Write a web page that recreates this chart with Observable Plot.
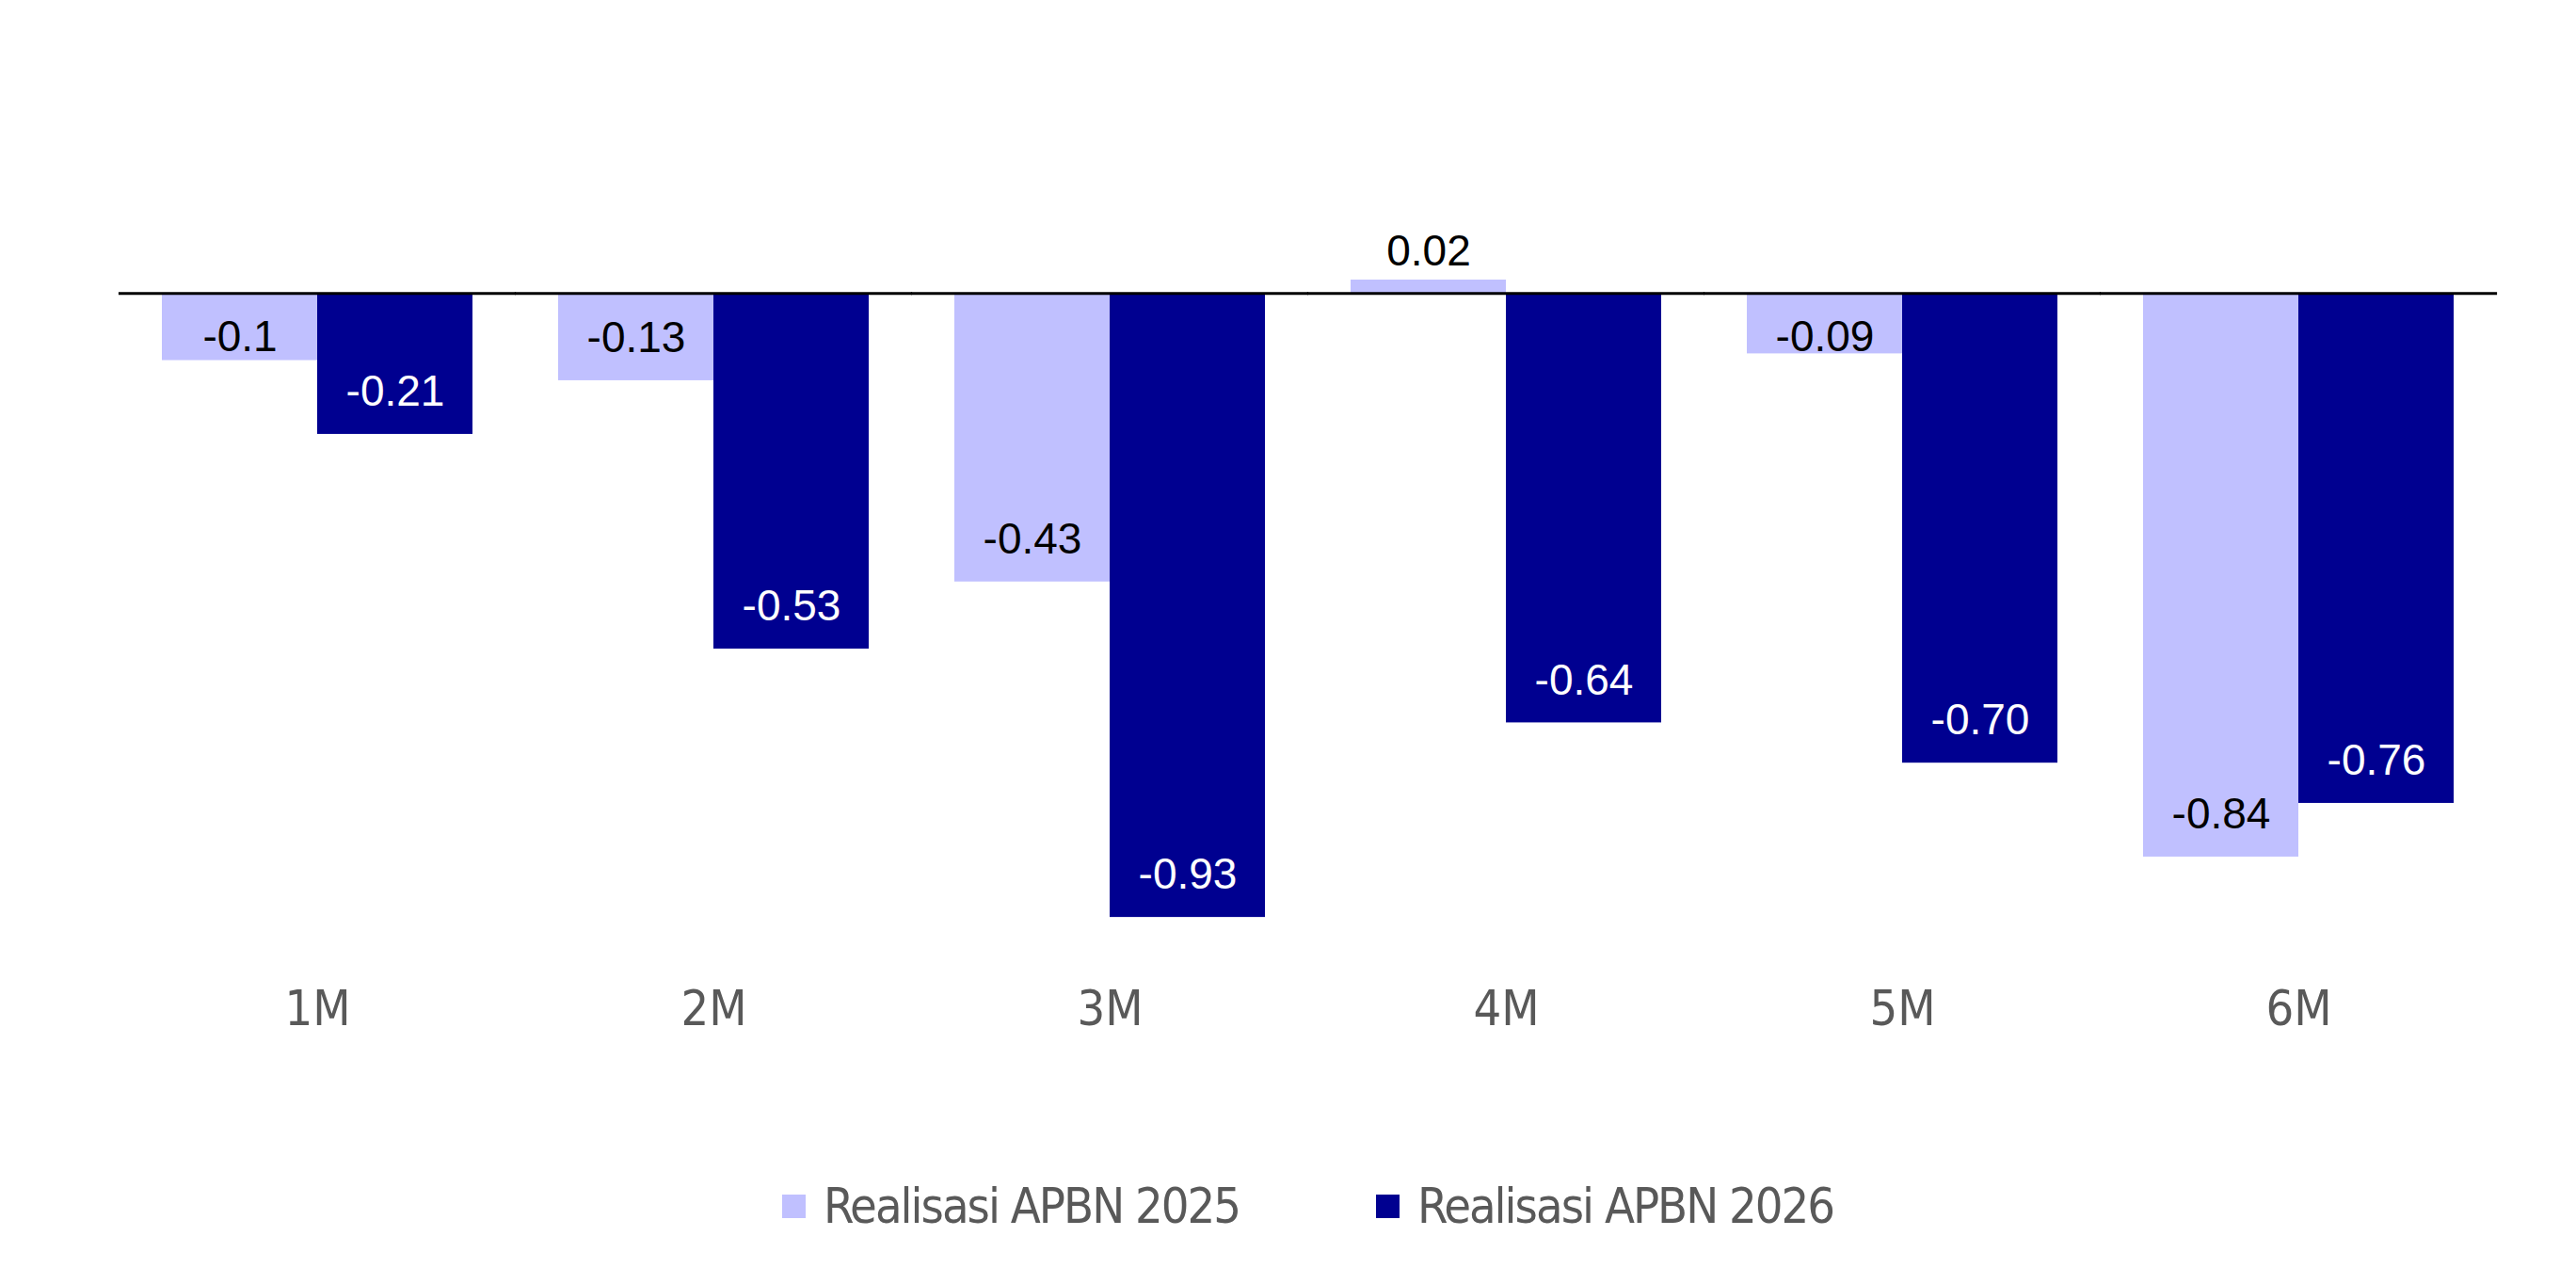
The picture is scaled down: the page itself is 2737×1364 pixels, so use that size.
<!DOCTYPE html>
<html><head><meta charset="utf-8">
<script src="https://cdn.jsdelivr.net/npm/d3@7"></script>
<script src="https://cdn.jsdelivr.net/npm/@observablehq/plot@0.6"></script>
<style>
body{margin:0;background:#fff;}
#legend{display:flex;justify-content:center;align-items:center;padding-left:126px;padding-right:84px;margin-top:112px;height:58px;font-family:"Liberation Sans Narrow","DejaVu Sans Condensed",sans-serif;font-size:52px;letter-spacing:-2px;color:#595959;line-height:58px;}
.item{display:flex;align-items:center;}
.item + .item{margin-left:145px;}
.sw{width:25px;height:25px;margin-right:19px;}
</style></head><body>
<div id="chart"></div><div id="legend"></div>
<script>
const months = ["1M","2M","3M","4M","5M","6M"];
const series = ["Realisasi APBN 2025","Realisasi APBN 2026"];
const values2025 = [-0.1,-0.13,-0.43,0.02,-0.09,-0.84];
const values2026 = [-0.21,-0.53,-0.93,-0.64,-0.70,-0.76];
const labels2025 = ["-0.1","-0.13","-0.43","0.02","-0.09","-0.84"];
const labels2026 = ["-0.21","-0.53","-0.93","-0.64","-0.70","-0.76"];
const colors = ["#C0C0FF","#000090"];

const data = months.flatMap((m,i)=>[
  {month:m, series:series[0], value:values2025[i], label:labels2025[i]},
  {month:m, series:series[1], value:values2026[i], label:labels2026[i]}
]);
const minLabelY = -0.129;
const valueFont = "'Liberation Sans', Arial, sans-serif";
const axisFont = "'Liberation Sans Narrow', 'DejaVu Sans Condensed', sans-serif";

const W = 2737, ML = 126, MR = 84, PI = 0.2165;
const halfGap = (W - ML - MR) / months.length * PI / 2;

const chart = Plot.plot({
  width: W, height: 1140,
  marginLeft: ML, marginRight: MR, marginTop: 240, marginBottom: 116,
  style: {background: "#fff"},
  fx: {domain: months, paddingInner: PI, paddingOuter: PI / 2, label: null},
  x: {domain: series, padding: 0, axis: null},
  y: {domain: [-1, 0.1], axis: null},
  color: {domain: series, range: colors},
  marks: [
    Plot.barY(data, {fx: "month", x: "series", y: "value", fill: "series"}),
    Plot.ruleY(months.map(m => ({month: m, v: 0})), {fx: "month", y: "v", stroke: "#000", strokeWidth: 3, insetLeft: -halfGap - 0.5, insetRight: -halfGap - 0.5}),
    Plot.text(data.filter(d => d.series === series[0] && d.value < 0), {
      fx: "month", x: "series", y: d => Math.min(d.value, minLabelY), text: "label",
      dy: -45, fill: "#000", fontSize: 46, fontFamily: valueFont, lineAnchor: "middle"
    }),
    Plot.text(data.filter(d => d.series === series[0] && d.value >= 0), {
      fx: "month", x: "series", y: "value", text: "label",
      dy: -30, fill: "#000", fontSize: 46, fontFamily: valueFont, lineAnchor: "middle"
    }),
    Plot.text(data.filter(d => d.series === series[1]), {
      fx: "month", x: "series", y: d => Math.min(d.value, minLabelY), text: "label",
      dy: -45, fill: "#fff", fontSize: 46, fontFamily: valueFont, lineAnchor: "middle"
    }),
    Plot.axisFx({anchor: "bottom", tickSize: 0, tickPadding: 28, fontSize: 52, fill: "#595959", fontFamily: axisFont, label: null, style: {letterSpacing: "-2px"}})
  ]
});
document.getElementById("chart").appendChild(chart);

const legend = document.getElementById("legend");
series.forEach((s, i) => {
  const item = document.createElement("div");
  item.className = "item";
  const sw = document.createElement("div");
  sw.className = "sw";
  sw.style.background = colors[i];
  const t = document.createElement("span");
  t.textContent = s;
  item.appendChild(sw); item.appendChild(t);
  legend.appendChild(item);
});
</script>
</body></html>
